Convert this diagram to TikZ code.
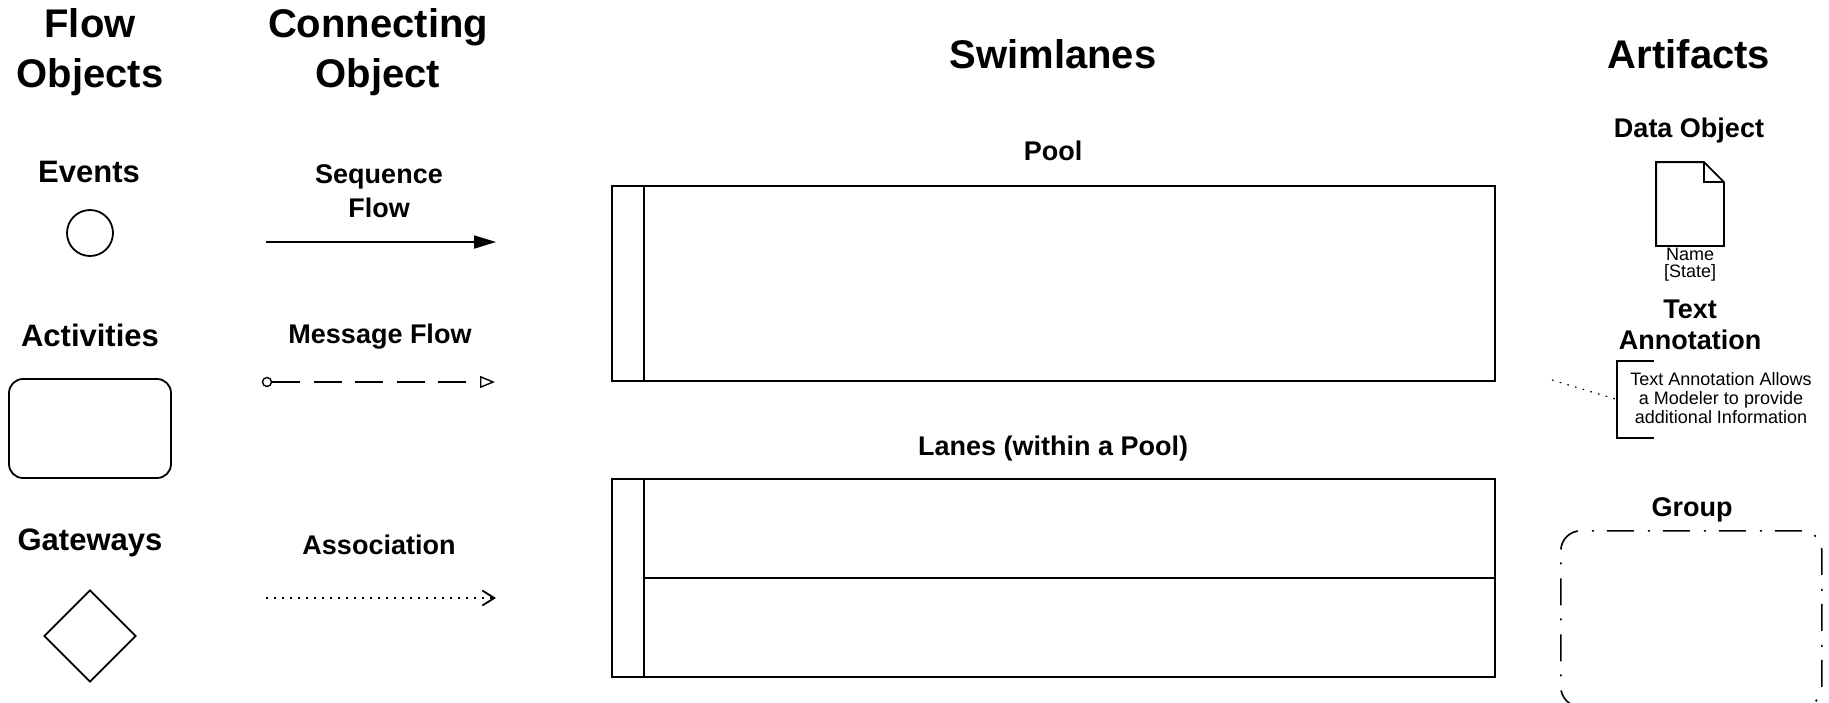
\documentclass[tikz,border=0pt]{standalone}
\usepackage{fontspec}
\setmainfont{Liberation Sans}
\usetikzlibrary{arrows.meta,calc,shapes.geometric}

\begin{document}
\begin{tikzpicture}[x=1pt,y=-1pt,line width=1.8pt,
  heading/.style={align=center,font=\bfseries\fontsize{40}{50}\selectfont},
  flowhead/.style={font=\bfseries\fontsize{31}{35}\selectfont},
  subhead/.style={align=center,font=\bfseries\fontsize{27}{31}\selectfont},
  smalltext/.style={align=center,inner sep=0pt,font=\fontsize{18}{19}\selectfont},
  objshape/.style={draw,inner sep=0pt},
  dotline/.style={line width=1.4pt,dash pattern=on 1.6pt off 6.4pt},
  groupline/.style={line width=1.6pt,dash pattern=on 27pt off 13pt on 2pt off 14pt}]
  \useasboundingbox (0,0) rectangle (1829,702);

  % column headings
  \node[heading] (flowhd) at (90,52) {Flow\\Objects};
  \node[heading] (connhd) at (378,52) {Connecting\\Object};
  \node[heading] (swimhd) at (1053,54) {Swimlanes};
  \node[heading] (arthd) at (1689,54) {Artifacts};

  % flow objects
  \node[flowhead] (events) at (89,172) {Events};
  \node[objshape,circle,minimum size=46pt] (event) at (90,233) {};
  \node[flowhead] (activities) at (90,335) {Activities};
  \node[objshape,rounded corners=14pt,minimum width=162pt,minimum height=99pt] (activity) at (90,428.5) {};
  \node[flowhead] (gateways) at (90,543) {Gateways};
  \node[objshape,diamond,minimum size=92pt] (gateway) at (90,636) {};

  % connecting objects
  \node[subhead,font=\bfseries\fontsize{27}{34}\selectfont] (seqlbl) at (379,191) {Sequence\\Flow};
  \coordinate (seqA) at (266,242);
  \coordinate (seqB) at (496,242);
  \draw[-{Triangle[length=22pt,width=13pt]}] (seqA) -- (seqB);

  \node[subhead] (msglbl) at (380,337) {Message Flow};
  \node[objshape,circle,line width=1.4pt,minimum size=9pt] (msgsrc) at (267,382) {};
  \coordinate (msgB) at (495,382);
  \draw[line width=1.4pt,dash pattern=on 28pt off 13.5pt,
    -{Triangle[open,length=15pt,width=12pt,line width=1.4pt]}] (msgsrc) -- (msgB);

  \node[subhead] (assoclbl) at (379,545) {Association};
  \coordinate (assocA) at (266,598);
  \coordinate (assocB) at (496,598);
  \draw[dotline,-{Straight Barb[length=12pt,width=15pt,line width=1.8pt]}] (assocA) -- (assocB);

  % swimlanes
  \node[subhead] (poollbl) at (1053,151) {Pool};
  \node[objshape,minimum width=883pt,minimum height=195pt] (pool) at (1053.5,283.5) {};
  \draw ($(pool.north west)+(33,0)$) -- ($(pool.south west)+(33,0)$);

  \node[subhead] (laneslbl) at (1053,449) {Lanes (within a Pool)};
  \node[objshape,minimum width=883pt,minimum height=198pt] (lanes) at (1053.5,578) {};
  \draw ($(lanes.north west)+(33,0)$) -- ($(lanes.south west)+(33,0)$);
  \draw ($(lanes.west)+(33,0)$) -- (lanes.east);

  % artifacts
  \node[subhead] (datalbl) at (1689,131) {Data Object};
  \node[inner sep=0pt,minimum width=66pt,minimum height=82pt] (data) at (1690,204) {};
  \draw[line join=miter] (data.north west) -- ($(data.north east)+(-20,0)$)
    -- ($(data.north east)+(0,20)$) -- (data.south east) -- (data.south west) -- cycle;
  \draw ($(data.north east)+(-20,0)$) |- ($(data.north east)+(0,20)$);
  \node[smalltext,font=\fontsize{18}{17}\selectfont,anchor=north] (dataname) at ($(data.south)+(0,1)$) {Name\\{[State]}};

  \node[subhead] (annothd) at (1690,325) {Text\\Annotation};
  \node[smalltext] (annot) at (1721,398) {Text Annotation Allows\\a Modeler to provide\\additional Information};
  \node[inner sep=0pt,minimum width=35pt,minimum height=75pt,anchor=west] (bracket) at (1617,399.5) {};
  \draw[line width=1.6pt] (bracket.north east) -- (bracket.north west)
    -- (bracket.south west) -- (bracket.south east);
  \coordinate (annotsrc) at (1552,380);
  \draw[dotline,line width=1.2pt] (annotsrc) -- (bracket.west);

  \node[subhead] (grouplbl) at (1692,510) {Group};
  \node[draw,groupline,rounded corners=20pt,inner sep=0pt,minimum width=261pt,
    minimum height=176pt,anchor=north west] (group) at (1560,530) {};
\end{tikzpicture}
\end{document}
